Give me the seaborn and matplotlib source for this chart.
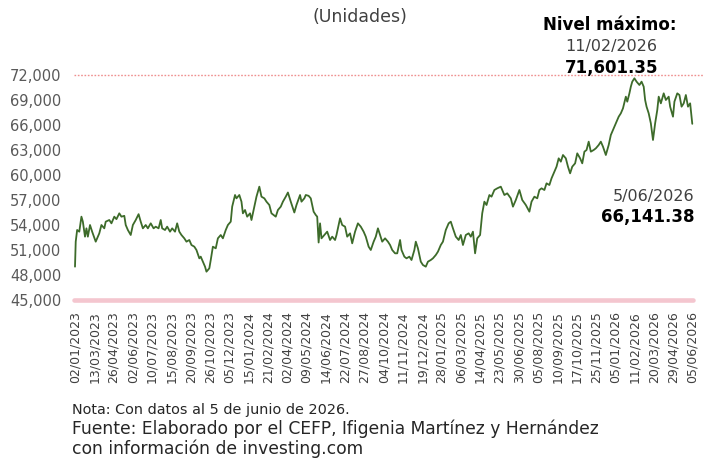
import matplotlib
matplotlib.use("Agg")
import matplotlib.pyplot as plt
import numpy as np
import pandas as pd
import seaborn as sns

# Etiquetas del eje x (cada 27 sesiones)
fechas_eje = ["02/01/2023", "13/03/2023", "26/04/2023", "02/06/2023", "10/07/2023",
              "15/08/2023", "20/09/2023", "26/10/2023", "05/12/2023", "15/01/2024",
              "21/02/2024", "02/04/2024", "09/05/2024", "14/06/2024", "22/07/2024",
              "27/08/2024", "04/10/2024", "11/11/2024", "19/12/2024", "28/01/2025",
              "06/03/2025", "14/04/2025", "23/05/2025", "30/06/2025", "05/08/2025",
              "10/09/2025", "17/10/2025", "25/11/2025", "05/01/2026", "11/02/2026",
              "20/03/2026", "29/04/2026", "05/06/2026"]
paso_eje = 27

# Sesión (número de día hábil desde 02/01/2023) y nivel del índice
sesion = [0, 1, 3, 6, 9, 11, 14, 16, 18, 21, 24, 29, 34, 37, 41, 43, 48, 51, 55, 58,
          62, 65, 69, 71, 74, 78, 81, 85, 89, 92, 95, 99, 102, 106, 110, 113, 117, 120, 122, 126,
          129, 133, 136, 140, 143, 146, 149, 153, 156, 160, 163, 167, 170, 174, 176, 179, 182, 184, 188, 190,
          193, 197, 200, 204, 207, 211, 214, 218, 220, 224, 226, 230, 233, 235, 238, 241, 245, 247, 251, 254,
          258, 261, 265, 268, 272, 275, 281, 284, 288, 291, 295, 298, 302, 307, 310, 315, 317, 321, 323, 327,
          330, 334, 337, 339, 341, 343, 345, 349, 353, 357, 360, 364, 366, 371, 374, 378, 381, 385, 388, 392,
          396, 400, 404, 407, 411, 414, 418, 421, 424, 427, 430, 434, 438, 441, 444, 448, 451, 455, 457, 461,
          464, 468, 471, 475, 477, 480, 484, 487, 491, 494, 498, 501, 505, 508, 512, 515, 519, 523, 526, 529,
          533, 537, 540, 543, 547, 551, 554, 557, 560, 563, 567, 570, 573, 576, 580, 583, 587, 591, 596, 601,
          605, 610, 613, 617, 622, 626, 631, 636, 639, 643, 647, 650, 653, 657, 660, 664, 667, 671, 674, 677,
          680, 683, 687, 690, 693, 696, 700, 703, 707, 710, 713, 716, 719, 722, 726, 729, 733, 736, 739, 743,
          747, 750, 753, 757, 761, 764, 767, 771, 773, 776, 778, 780, 783, 786, 790, 793, 796, 798, 800, 803,
          806, 809, 812, 815, 817, 820, 824, 827, 831, 833, 837, 839, 843, 846, 849, 852, 855, 858, 861, 864]
valor = [49000, 52000, 53400, 53200, 55000, 54400, 52600, 53600, 52600, 54000,
         53200, 52000, 53000, 54000, 53600, 54400, 54600, 54200, 55000, 54700,
         55400, 55000, 55100, 54000, 53400, 52800, 54000, 54600, 55300, 54400,
         53600, 54000, 53600, 54200, 53600, 53800, 53600, 54600, 53600, 53400,
         53800, 53200, 53600, 53200, 54200, 53200, 52800, 52400, 52000, 52200,
         51600, 51400, 51000, 50000, 50200, 49600, 49000, 48400, 48800, 49800,
         51400, 51200, 52400, 52800, 52400, 53400, 54000, 54400, 56200, 57600,
         57200, 57600, 56800, 55400, 55800, 55000, 55400, 54600, 56200, 57400,
         58600, 57400, 57200, 56800, 56400, 55400, 55000, 55800, 56200, 56800,
         57400, 57900, 56800, 55500, 56400, 57600, 56800, 57200, 57600, 57500,
         57200, 55600, 55200, 55000, 51900, 54200, 52400, 52800, 53200, 52200,
         52600, 52200, 52800, 54800, 54000, 53800, 52600, 53000, 51800, 53200,
         54200, 53800, 53200, 52600, 51400, 51000, 52000, 52600, 53600, 52800,
         52000, 52400, 52000, 51600, 51000, 50600, 50600, 52200, 51000, 50200,
         50000, 50200, 49800, 51000, 52000, 51200, 49600, 49200, 49000, 49600,
         49800, 50000, 50400, 50800, 51600, 52000, 53400, 54200, 54400, 53600,
         52600, 52200, 52800, 51600, 52800, 53000, 52600, 53200, 50600, 52400,
         52800, 55400, 56800, 56400, 57600, 57400, 58200, 58400, 58600, 57600,
         57800, 57200, 56200, 57000, 58200, 57000, 56400, 55600, 56800, 57400,
         57200, 58200, 58400, 58200, 59000, 58800, 59600, 60400, 61000, 62000,
         61600, 62400, 62000, 61000, 60200, 61000, 61400, 62600, 62000, 61400,
         62800, 63000, 64000, 62800, 63000, 63200, 63600, 64000, 63400, 62400,
         63600, 64800, 65400, 66200, 67000, 67400, 68000, 69400, 68800, 69800,
         70600, 71200, 71601.35, 71200, 70800, 71200, 70600, 69000, 68200, 67400,
         66200, 64200, 66200, 67800, 69400, 68600, 69800, 69000, 69400, 68200,
         67000, 68800, 69800, 69600, 68200, 68600, 69600, 68200, 68600, 66141.38]

df = pd.DataFrame({"sesion": sesion, "valor": valor})

sns.set_style("white")
plt.rcParams["font.family"] = ["DejaVu Sans"]

fig = plt.figure(figsize=(7.03, 4.58), dpi=100)
ax = fig.add_axes([74 / 703, 158 / 458, 629 / 703, 225 / 458])

sns.lineplot(data=df, x="sesion", y="valor", color="#3d6b2a", linewidth=1.3, ax=ax)

ax.set_xlim(-1.4, 879)
ax.set_ylim(45000, 72000)
ax.set_yticks(np.arange(45000, 72001, 3000))
ax.set_yticklabels([f"{v:,}" for v in range(45000, 72001, 3000)])
ax.set_xticks([i * paso_eje for i in range(len(fechas_eje))])
ax.set_xticklabels(fechas_eje, rotation=90)
ax.tick_params(axis="y", labelsize=10.5, labelcolor="#595959", length=0, pad=9)
ax.tick_params(axis="x", labelsize=9, labelcolor="#404040", length=0, pad=8)
ax.set_xlabel("")
ax.set_ylabel("")
sns.despine(ax=ax, left=True, bottom=True)

# Línea del eje horizontal y nivel máximo
ax.axhline(45000, xmin=0, xmax=619 / 629, color="#f4c6cf", linewidth=3.3, clip_on=False)
ax.axhline(72000, color="#ef8f8f", linewidth=1.0, linestyle=(0, (1.2, 1.2)), clip_on=False)

fig.text(360 / 703, 1 - 17 / 458, "(Unidades)", ha="center", va="center", fontsize=12.5, color="#404040")
fig.text(610 / 703, 1 - 25 / 458, "Nivel máximo:", ha="center", va="center", fontsize=12,
         fontweight="bold", color="black")
fig.text(611 / 703, 1 - 47 / 458, "11/02/2026", ha="center", va="center", fontsize=11.5, color="#404040")
fig.text(612 / 703, 1 - 68 / 458, "71,601.35", ha="center", va="center", fontsize=12,
         fontweight="bold", color="black")
fig.text(694 / 703, 1 - 196 / 458, "5/06/2026", ha="right", va="center", fontsize=11.5, color="#404040")
fig.text(694 / 703, 1 - 217 / 458, "66,141.38", ha="right", va="center", fontsize=12,
         fontweight="bold", color="black")

fig.text(72 / 703, 1 - 410 / 458, "Nota: Con datos al 5 de junio de 2026.", ha="left", va="center",
         fontsize=10.4, color="#262626")
fig.text(72 / 703, 1 - 429 / 458, "Fuente: Elaborado por el CEFP, Ifigenia Martínez y Hernández",
         ha="left", va="center", fontsize=12.3, color="#262626")
fig.text(72 / 703, 1 - 449 / 458, "con información de investing.com", ha="left", va="center",
         fontsize=12.3, color="#262626")

fig.savefig("out.png", dpi=100)
